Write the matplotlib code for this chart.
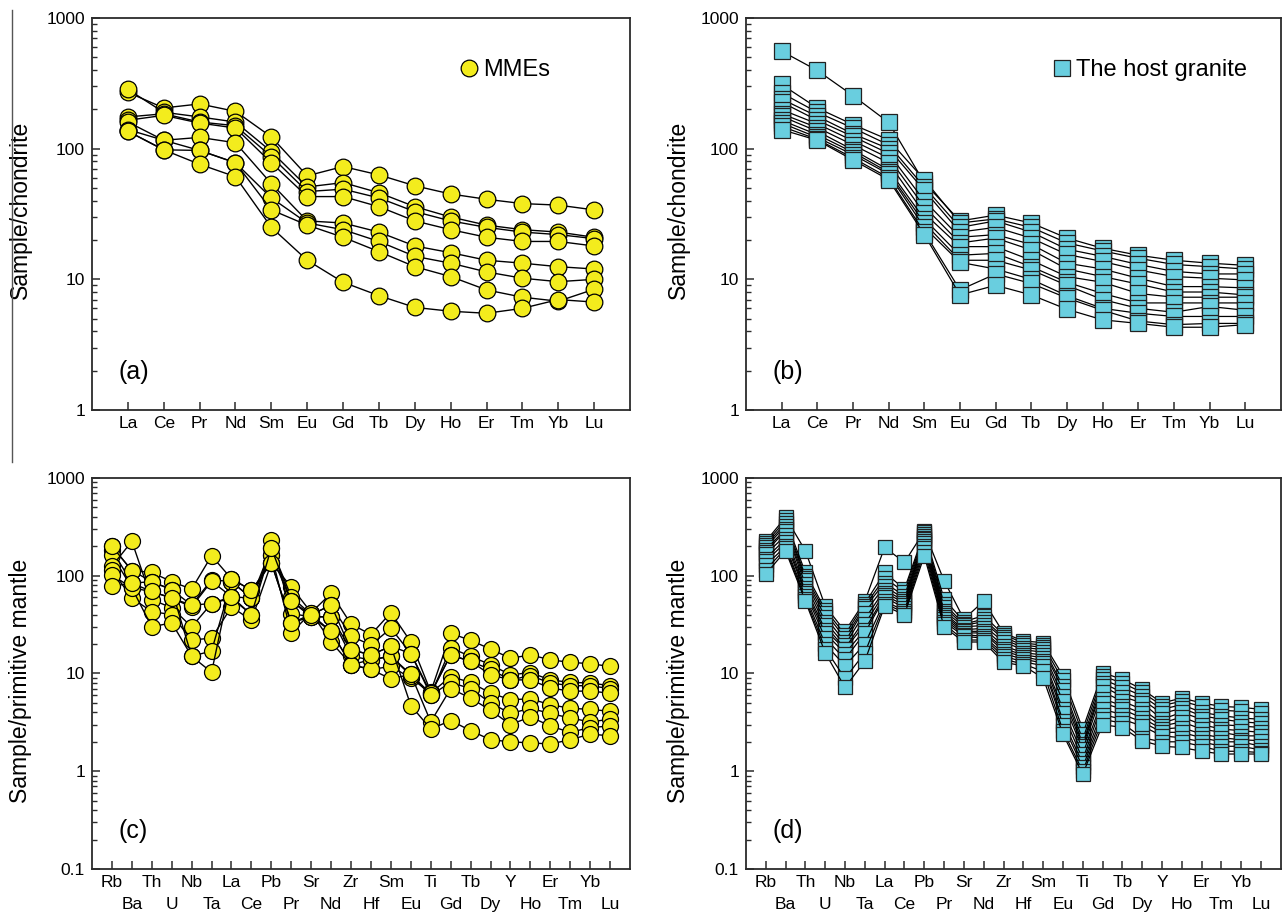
import numpy as np
import matplotlib
matplotlib.use('Agg')
import matplotlib.pyplot as plt
from matplotlib.lines import Line2D
from matplotlib.ticker import LogLocator, FuncFormatter, NullFormatter

plt.rcParams['font.family'] = ['Liberation Sans', 'DejaVu Sans']

ree = ['La', 'Ce', 'Pr', 'Nd', 'Sm', 'Eu', 'Gd', 'Tb', 'Dy', 'Ho', 'Er', 'Tm', 'Yb', 'Lu']
spider = ['Rb', 'Ba', 'Th', 'U', 'Nb', 'Ta', 'La', 'Ce', 'Pb', 'Pr', 'Sr', 'Nd', 'Zr',
          'Hf', 'Sm', 'Eu', 'Ti', 'Gd', 'Tb', 'Dy', 'Y', 'Ho', 'Er', 'Tm', 'Yb', 'Lu']

# (a) MMEs, chondrite normalised - one row per sample
mme_ree = [
    [270, 205, 220, 193, 123, 62, 73, 63, 52, 45, 41, 38, 37, 34],
    [284, 190, 175, 160, 95, 51, 55, 46, 36, 30, 26, 24, 23, 21],
    [175, 185, 160, 150, 87, 47, 49, 42, 33, 28, 25, 23, 22, 20.5],
    [165, 180, 157, 144, 78, 43, 43, 36, 28, 24, 21, 19.5, 19.5, 18],
    [160, 116, 122, 111, 54, 28, 27, 23, 18, 16, 14, 13.3, 12.5, 12],
    [140, 116, 97, 78, 42, 27, 24, 19.5, 15, 13.3, 11.4, 10.2, 9.6, 10],
    [136, 98, 97, 78, 34, 26, 21, 16.3, 12.5, 10.5, 8.3, 7.3, 6.8, 8.4],
    [136, 98, 76, 61, 25, 14, 9.5, 7.5, 6.1, 5.7, 5.5, 6, 7, 6.7],
]

# (b) host granite, chondrite normalised - one row per element (12 samples)
host_ree = [
    [558, 310, 267, 240, 227, 199, 185, 177, 165, 157, 148, 140],
    [397, 205, 190, 177, 165, 155, 145, 136, 128, 122, 118, 116],
    [255, 153, 144, 130, 124, 115, 107, 98, 94, 90, 85, 82],
    [159, 117, 107, 100, 92, 85, 78, 69, 66, 64, 60, 58],
    [55, 58, 51, 48, 40, 36, 32, 29, 27, 25, 23, 22],
    [28, 27, 25, 23, 21, 19, 17.8, 15.3, 14, 13.5, 8.3, 7.6],
    [31, 29, 28, 25, 22, 20.7, 17.8, 15.8, 14, 12, 11, 9],
    [27, 25, 23, 20.7, 18.5, 16.8, 14, 12.5, 11.8, 10, 9.3, 7.6],
    [20.7, 19, 17, 15.5, 13.3, 12, 10.5, 9.5, 9, 7.5, 7.2, 5.9],
    [17.3, 16.5, 15, 13.7, 12, 10.5, 9.5, 7.8, 7, 6, 5.8, 4.9],
    [15.3, 14.5, 13, 11.8, 10.2, 9.2, 7.8, 6.6, 6, 5.5, 4.8, 4.6],
    [14, 13, 11.5, 10.5, 8.8, 8, 7.3, 6.6, 5.6, 5.2, 4.5, 4.3],
    [13.3, 12.5, 11, 10.2, 8.8, 8, 7.3, 6.6, 6.2, 5.2, 4.6, 4.3],
    [12.8, 12, 11, 9.9, 8.6, 7.6, 7.3, 6.6, 5.8, 5.2, 4.6, 4.5],
]

# (c) MMEs, primitive mantle normalised - one row per sample
mme_pm = [
    [200, 113, 108, 87, 73, 160, 93, 71, 135, 77, 42, 66, 32, 25, 42, 21, 6.5, 25.8, 21.8, 17.8, 14.3, 15.5, 13.8, 13, 12.6, 11.8],
    [185, 84, 87, 72, 50, 91, 87, 59, 192, 61, 40, 50, 24, 19.6, 29, 16, 6.0, 18.2, 15, 12.3, 9.7, 10.2, 8.6, 8.1, 8, 7.5],
    [164, 75, 69, 59, 48, 88, 61, 59, 163, 55, 38, 38, 17.5, 15.5, 19, 16, 6.3, 15.5, 13.3, 11, 8.6, 9.5, 8, 7.5, 7.5, 7],
    [125, 225, 57, 47, 30, 52, 59, 40, 233, 41, 38, 38, 15, 13.8, 15, 9.8, 6.2, 15.5, 13.3, 9.7, 8.6, 8.6, 7.1, 6.6, 6.6, 6.3],
    [115, 59, 43, 40, 22, 23, 48, 35, 135, 33, 40, 27, 12.3, 11, 11.8, 9, 6.3, 9.3, 8.1, 6.3, 5.4, 5.5, 4.8, 4.4, 4.3, 4.1],
    [102, 75, 30, 33, 15, 17, 87, 59, 163, 26, 42, 21, 12.3, 13.8, 15, 9.5, 6.0, 8.1, 7, 5, 3.9, 4.4, 3.9, 3.5, 3.2, 3.4],
    [200, 113, 87, 72, 15, 10.3, 93, 71, 135, 33, 38, 27, 12.3, 11, 8.8, 9.8, 3.2, 7, 5.6, 4.2, 3, 3.6, 2.9, 2.5, 2.8, 2.9],
    [78, 84, 69, 59, 50, 52, 61, 40, 192, 55, 40, 50, 17.5, 15.5, 19, 4.7, 2.7, 3.3, 2.6, 2.1, 2, 1.95, 1.9, 2.1, 2.4, 2.3],
]

# (d) host granite, primitive mantle normalised - one row per element (12 samples)
host_pm = [
    [225, 215, 205, 195, 185, 175, 165, 150, 140, 128, 115, 104],
    [397, 370, 345, 326, 300, 290, 260, 238, 220, 200, 190, 180],
    [180, 108, 100, 95, 90, 82, 75, 70, 67, 62, 58, 55],
    [49, 45, 42, 38, 34, 31, 28, 26, 23, 20, 18, 16.3],
    [27, 25, 23, 21, 19.5, 18, 17.6, 16, 14, 12, 8.9, 7.2],
    [55, 52, 49, 47, 42, 36, 32, 28, 26, 20, 16.3, 13.4],
    [195, 108, 95, 85, 78, 72, 67, 63, 60, 55, 52, 49],
    [137, 73, 68, 62, 58, 55, 53, 50, 47, 44, 42, 40],
    [285, 278, 265, 257, 245, 235, 228, 215, 203, 190, 175, 160],
    [89, 58, 52, 48, 44, 42, 40, 38, 36, 34, 32, 30],
    [36, 34, 32, 31, 30, 28, 27, 26, 25, 24, 22, 21],
    [55, 39, 36, 34, 31, 29, 27, 26, 24, 23, 22, 21],
    [26, 25, 23.5, 22.4, 21, 19.2, 18, 17, 16, 15, 14, 13],
    [21.5, 20.5, 19.5, 18.4, 17.5, 16.3, 15.5, 14.8, 14, 13.2, 12.5, 12],
    [20.7, 19.5, 18.5, 17.6, 16.5, 15.5, 14.5, 13.5, 12.8, 12, 10.5, 9],
    [9.5, 8.5, 7.4, 6.8, 5.9, 5.2, 4.3, 3.9, 3.3, 3.0, 2.6, 2.4],
    [2.7, 2.4, 2.1, 1.9, 1.8, 1.67, 1.5, 1.32, 1.2, 1.1, 1.0, 0.93],
    [10.2, 9.4, 8.7, 8.0, 7.4, 6.5, 5.5, 5.0, 4.3, 3.8, 3.4, 3.0],
    [8.7, 8.0, 7.2, 6.4, 5.8, 5.2, 4.7, 4.3, 3.8, 3.4, 3.1, 2.8],
    [6.9, 6.4, 5.9, 5.4, 5.0, 4.3, 3.9, 3.5, 3.2, 2.9, 2.2, 2.05],
    [5.0, 4.7, 4.3, 3.9, 3.4, 3.1, 2.9, 2.7, 2.5, 2.3, 2.0, 1.8],
    [5.6, 5.2, 4.8, 4.4, 4.0, 3.6, 3.2, 2.8, 2.5, 2.2, 2.0, 1.75],
    [5.0, 4.6, 4.0, 3.7, 3.4, 3.0, 2.7, 2.4, 2.2, 2.0, 1.8, 1.6],
    [4.6, 4.2, 3.7, 3.4, 3.0, 2.7, 2.5, 2.2, 2.0, 1.8, 1.6, 1.5],
    [4.5, 4.1, 3.5, 3.2, 2.9, 2.6, 2.3, 2.1, 2.0, 1.8, 1.6, 1.5],
    [4.3, 3.9, 3.4, 3.1, 2.8, 2.5, 2.3, 2.05, 1.8, 1.65, 1.55, 1.5],
]

YELLOW = '#F3EC1D'
BLUE = '#69CEDF'
SPINE = '#2b2b2b'

fig = plt.figure(figsize=(12.85, 9.15), dpi=100)

def make_axes(rect, elements, ymin, ylabel, tag, two_rows):
    ax = fig.add_axes(rect)
    ax.set_yscale('log')
    ax.set_ylim(ymin, 1000)
    ax.set_xlim(0, len(elements) + 1)
    x = np.arange(1, len(elements) + 1)
    ax.yaxis.set_major_locator(LogLocator(base=10, numticks=10))
    ax.yaxis.set_minor_locator(LogLocator(base=10, subs=np.arange(2, 10), numticks=20))
    ax.yaxis.set_major_formatter(FuncFormatter(lambda v, p: '%g' % v))
    ax.yaxis.set_minor_formatter(NullFormatter())
    ax.tick_params(axis='both', which='major', direction='in', length=6, width=1.1,
                   color=SPINE, labelsize=12.5, pad=5, top=False, right=False)
    ax.tick_params(axis='y', which='minor', direction='in', length=3.5, width=1.0,
                   color=SPINE, right=False)
    ax.tick_params(axis='x', which='major', pad=4)
    if two_rows:
        # every second element label sits on a lower row
        ax.set_xticks(x[::2])
        ax.set_xticklabels(elements[::2])
        ax.set_xticks(x[1::2], minor=True)
        ax.set_xticklabels(elements[1::2], minor=True)
        ax.tick_params(axis='x', which='minor', direction='in', length=6, width=1.1,
                       color=SPINE, labelsize=12.5, pad=20, bottom=True, top=False)
    else:
        ax.set_xticks(x)
        ax.set_xticklabels(elements)
        ax.tick_params(axis='x', which='minor', bottom=False, top=False)
    for s in ax.spines.values():
        s.set_color(SPINE)
        s.set_linewidth(1.3)
    ax.set_ylabel(ylabel, fontsize=16.5)
    ax.text(0.05, 0.097, tag, transform=ax.transAxes, fontsize=18, ha='left', va='center')
    return ax, x

# panel (a)
ax_a, xa = make_axes([0.0716, 0.5519, 0.4187, 0.4284], ree, 1, 'Sample/chondrite', '(a)', False)
for row in mme_ree:
    ax_a.plot(xa, row, color='black', lw=1.0, marker='o', ms=12, mfc=YELLOW, mec='black', mew=0.9)
h = Line2D([], [], ls='none', marker='o', ms=12, mfc=YELLOW, mec='black', mew=0.9)
ax_a.legend([h], ['MMEs'], loc='center left', bbox_to_anchor=(0.685, 0.867), frameon=False,
            fontsize=17, handlelength=0.7, handletextpad=0.25, borderpad=0, borderaxespad=0)
ax_a.yaxis.set_label_coords(-0.112, 0.51)

# panel (b)
ax_b, xb = make_axes([0.5805, 0.5519, 0.4163, 0.4284], ree, 1, 'Sample/chondrite', '(b)', False)
for row in np.array(host_ree).T:
    ax_b.plot(xb, row, color='black', lw=0.9, marker='s', ms=11, mfc=BLUE, mec='#222222', mew=0.9)
h = Line2D([], [], ls='none', marker='s', ms=11, mfc=BLUE, mec='#222222', mew=0.9)
ax_b.legend([h], ['The host granite'], loc='center left', bbox_to_anchor=(0.575, 0.867), frameon=False,
            fontsize=17, handlelength=0.7, handletextpad=0.25, borderpad=0, borderaxespad=0)
ax_b.yaxis.set_label_coords(-0.105, 0.51)

# panel (c)
ax_c, xc = make_axes([0.0716, 0.0503, 0.4187, 0.4273], spider, 0.1, 'Sample/primitive mantle', '(c)', True)
for row in mme_pm:
    ax_c.plot(xc, row, color='black', lw=1.0, marker='o', ms=11.5, mfc=YELLOW, mec='black', mew=0.9)
ax_c.yaxis.set_label_coords(-0.112, 0.48)

# panel (d)
ax_d, xd = make_axes([0.5805, 0.0503, 0.4163, 0.4273], spider, 0.1, 'Sample/primitive mantle', '(d)', True)
for row in np.array(host_pm).T:
    ax_d.plot(xd, row, color='black', lw=0.9, marker='s', ms=10.5, mfc=BLUE, mec='#222222', mew=0.9)
ax_d.yaxis.set_label_coords(-0.105, 0.48)

# thin border line at the left of the top row
fig.add_artist(Line2D([12 / 1285, 12 / 1285], [1 - 10 / 915, 1 - 462 / 915],
                      color='#555555', lw=1.0))

fig.savefig('out.png', dpi=100)
